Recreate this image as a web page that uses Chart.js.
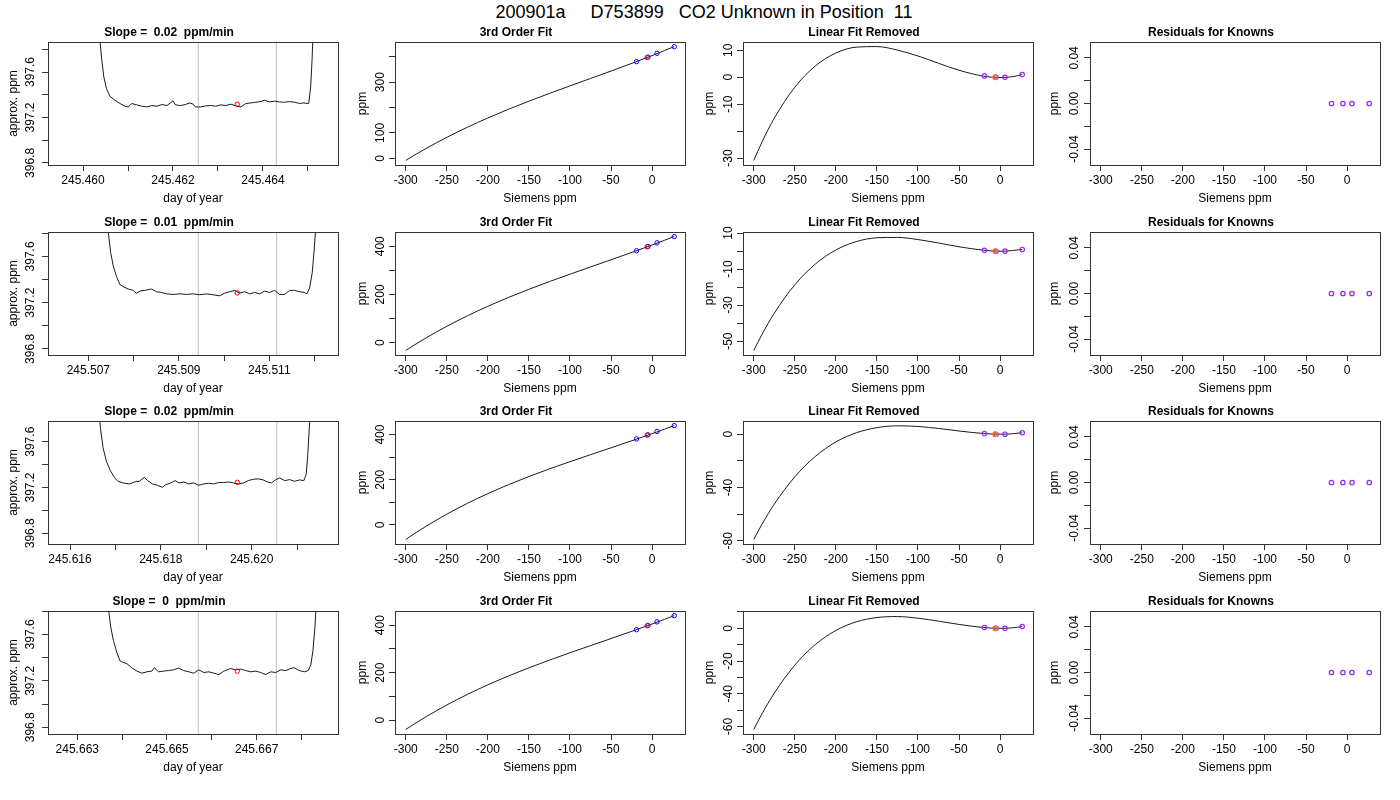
<!DOCTYPE html>
<html>
<head>
<meta charset="utf-8">
<title>CO2 Unknown in Position 11</title>
<script src="https://cdn.jsdelivr.net/npm/chart.js@4.4.1/dist/chart.umd.min.js"></script>
<style>
  html, body { margin: 0; padding: 0; background: #fff; }
  #page { position: relative; width: 1400px; height: 800px; overflow: hidden; }
  #main-title { position: absolute; left: 4px; top: 2px; width: 1400px; text-align: center;
    font: 18px 'Liberation Sans', Arial, sans-serif; white-space: pre; line-height: 20px; color: #000; }
  canvas { position: absolute; }
</style>
</head>
<body>
<div id="page"><div id="main-title"></div></div>
<script>
const mainTitle = '200901a     D753899   CO2 Unknown in Position  11';
const slopeTitles = ['Slope =  0.02  ppm/min', 'Slope =  0.01  ppm/min', 'Slope =  0.02  ppm/min', 'Slope =  0  ppm/min'];

// analyser trace, one per injection (day of year, approx. ppm)
const day1 = [245.460351, 245.460410, 245.460463, 245.460522, 245.460597, 245.460709, 245.460821, 245.460933, 245.461007, 245.461082,
  245.461194, 245.461306, 245.461418, 245.461530, 245.461642, 245.461754, 245.461866, 245.461940, 245.462000, 245.462052,
  245.462164, 245.462276, 245.462373, 245.462448, 245.462500, 245.462612, 245.462724, 245.462836, 245.462948, 245.463060,
  245.463172, 245.463284, 245.463396, 245.463507, 245.463619, 245.463731, 245.463843, 245.463955, 245.464030, 245.464142,
  245.464254, 245.464366, 245.464478, 245.464590, 245.464701, 245.464813, 245.464888, 245.465015, 245.465060, 245.465090, 245.465112];
const ppm1 = [398.0, 397.731, 397.556, 397.454, 397.387, 397.352, 397.323, 397.299, 397.293, 397.323,
  397.311, 397.299, 397.293, 397.305, 397.299, 397.314, 397.305, 397.328, 397.346, 397.311,
  397.305, 397.314, 397.328, 397.317, 397.293, 397.293, 397.302, 397.305, 397.299, 397.311,
  397.305, 397.317, 397.302, 397.293, 397.323, 397.328, 397.334, 397.340, 397.352, 397.337,
  397.343, 397.337, 397.334, 397.340, 397.334, 397.323, 397.328, 397.323, 397.469, 397.702, 397.936];

const day2 = [245.507404, 245.507441, 245.507493, 245.507551, 245.507625, 245.507699, 245.507787, 245.507882, 245.507993, 245.508066,
  245.508140, 245.508250, 245.508397, 245.508507, 245.508618, 245.508728, 245.508875, 245.509022, 245.509169, 245.509316,
  245.509463, 245.509610, 245.509757, 245.509904, 245.510015, 245.510125, 245.510235, 245.510346, 245.510456, 245.510566,
  245.510676, 245.510787, 245.510897, 245.511007, 245.511118, 245.511228, 245.511338, 245.511449, 245.511559, 245.511669,
  245.511779, 245.511831, 245.511890, 245.511949, 245.511993, 245.512022, 245.512037];
const ppm2 = [397.87, 397.812, 397.635, 397.518, 397.424, 397.356, 397.335, 397.318, 397.306, 397.282,
  397.300, 397.306, 397.318, 397.294, 397.288, 397.276, 397.271, 397.276, 397.271, 397.276,
  397.268, 397.276, 397.268, 397.259, 397.282, 397.294, 397.306, 397.282, 397.294, 397.276,
  397.288, 397.276, 397.300, 397.288, 397.306, 397.271, 397.271, 397.306, 397.306, 397.294,
  397.288, 397.276, 397.326, 397.459, 397.665, 397.826, 397.93];

const day3 = [245.616640, 245.616669, 245.616727, 245.616800, 245.616887, 245.616982, 245.617055, 245.617164, 245.617309, 245.617418,
  245.617527, 245.617636, 245.617709, 245.617818, 245.617927, 245.618036, 245.618109, 245.618218, 245.618313, 245.618400,
  245.618509, 245.618618, 245.618727, 245.618836, 245.618945, 245.619055, 245.619164, 245.619273, 245.619382, 245.619491,
  245.619600, 245.619709, 245.619818, 245.619927, 245.620036, 245.620145, 245.620255, 245.620349, 245.620436, 245.620524,
  245.620618, 245.620727, 245.620836, 245.620945, 245.621055, 245.621149, 245.621200, 245.621236, 245.621265, 245.621287];
const ppm3 = [397.84, 397.723, 397.547, 397.430, 397.348, 397.284, 397.254, 397.240, 397.231, 397.248,
  397.254, 397.289, 397.260, 397.231, 397.219, 397.201, 397.225, 397.240, 397.260, 397.240,
  397.248, 397.231, 397.240, 397.219, 397.231, 397.237, 397.231, 397.243, 397.243, 397.248,
  397.240, 397.231, 397.240, 397.260, 397.272, 397.275, 397.266, 397.248, 397.240, 397.266,
  397.284, 397.260, 397.269, 397.254, 397.266, 397.260, 397.313, 397.489, 397.694, 397.84];

const day4 = [245.663672, 245.663701, 245.663746, 245.663806, 245.663881, 245.663955, 245.664015, 245.664104, 245.664216, 245.664328,
  245.664440, 245.664552, 245.664664, 245.664716, 245.664813, 245.664925, 245.665037, 245.665149, 245.665261, 245.665373,
  245.665485, 245.665597, 245.665709, 245.665821, 245.665933, 245.666045, 245.666157, 245.666269, 245.666418, 245.666530,
  245.666642, 245.666754, 245.666866, 245.666978, 245.667090, 245.667201, 245.667313, 245.667425, 245.667537, 245.667649,
  245.667761, 245.667836, 245.667948, 245.668060, 245.668149, 245.668209, 245.668254, 245.668299, 245.668328];
const ppm4 = [397.87, 397.802, 397.664, 397.547, 397.445, 397.371, 397.360, 397.348, 397.313, 397.284,
  397.266, 397.278, 397.284, 397.313, 397.278, 397.284, 397.289, 397.295, 397.310, 397.289,
  397.278, 397.266, 397.295, 397.272, 397.278, 397.266, 397.254, 397.284, 397.307, 397.295,
  397.301, 397.289, 397.278, 397.284, 397.272, 397.254, 397.278, 397.272, 397.295, 397.289,
  397.307, 397.313, 397.289, 397.278, 397.289, 397.342, 397.459, 397.664, 397.87];

const dayRows = [day1, day2, day3, day4];
const ppmRows = [ppm1, ppm2, ppm3, ppm4];

// averaging window (grey lines) and the averaged value (red circle)
const windowDays = [[245.462562, 245.464296], [245.509431, 245.511163], [245.618826, 245.620553], [245.665698, 245.667437]];
const unknownDay = [245.463429, 245.510293, 245.619685, 245.666567];
const unknownPpm = [397.316, 397.284, 397.245, 397.284];

const dayTicks = [
  [245.460, 245.461, 245.462, 245.463, 245.464, 245.465],
  [245.507, 245.508, 245.509, 245.510, 245.511, 245.512],
  [245.616, 245.617, 245.618, 245.619, 245.620, 245.621],
  [245.663, 245.664, 245.665, 245.666, 245.667, 245.668]];
const dayTickLabels = [
  ['245.460', '', '245.462', '', '245.464', ''],
  ['245.507', '', '245.509', '', '245.511', ''],
  ['245.616', '', '245.618', '', '245.620', ''],
  ['245.663', '', '245.665', '', '245.667', '']];
const dayLimits = [[245.459222, 245.465667], [245.506109, 245.512518], [245.615515, 245.621901], [245.662347, 245.668813]];
const ppmLimits = [[396.782, 397.864], [396.747, 397.811], [396.706, 397.781], [396.742, 397.802]];
const ppmTicks = [396.8, 397.0, 397.2, 397.4, 397.6, 397.8];
const ppmTickLabels = ['396.8', '', '397.2', '', '397.6', ''];

// calibration curve, sampled along the Siemens axis
const siemensGrid = [-300, -290, -275, -250, -225, -200, -175, -150, -125, -100, -75, -50, -20, 0, 15, 27];
const fit1 = [-8.4, 11.2, 39.2, 82.6, 122.3, 159.0, 193.1, 225.2, 255.7, 285.4, 314.6, 343.9, 379.9, 404.9, 424.3, 440.4];
const fit2 = [-32.7, -11.1, 19.9, 67.6, 110.9, 150.6, 187.2, 221.2, 253.2, 283.9, 313.9, 343.7, 380.0, 404.9, 424.4, 440.3];
const fit3 = [-64.1, -39.7, -5.2, 47.8, 95.5, 138.8, 178.1, 214.4, 248.2, 280.1, 311.0, 341.6, 378.6, 404.0, 423.8, 440.1];
const fit4 = [-39.3, -17.1, 14.8, 63.8, 108.2, 148.7, 185.9, 220.4, 252.8, 283.7, 313.8, 343.7, 380.0, 405.0, 424.4, 440.5];
const removed1 = [-30.9, -24.1, -15.2, -3.7, 4.2, 9.0, 11.2, 11.4, 10.1, 7.9, 5.2, 2.6, 0.4, -0.1, 0.2, 1.0];
const removed2 = [-55.2, -46.3, -34.5, -18.7, -7.2, 0.6, 5.3, 7.4, 7.6, 6.4, 4.5, 2.4, 0.5, -0.1, 0.3, 0.9];
const removed3 = [-79.0, -67.6, -52.5, -32.0, -16.7, -5.8, 1.1, 4.9, 6.3, 5.8, 4.3, 2.4, 0.5, 0.0, 0.3, 1.1];
const removed4 = [-61.8, -52.3, -39.6, -22.5, -9.9, -1.3, 4.0, 6.6, 7.2, 6.2, 4.4, 2.4, 0.5, 0.0, 0.3, 1.1];
const fitRows = [fit1, fit2, fit3, fit4];
const removedRows = [removed1, removed2, removed3, removed4];

const knownSiemens = [-19, -5, 6, 27];
const knownPpm = [381, 399, 414, 440];
const knownRemoved = [[0.5, 0, 0, 1.0], [0.4, -0.1, 0, 0.9], [0.5, 0, 0, 1.1], [0.5, 0, 0, 1.1]];
const knownResiduals = [0, 0, 0, 0];
const unknownSiemens = -6;
const unknownFitPpm = 397.5;
const unknownRemoved = [0, 0, 0, 0];

const siemensTicks = [-300, -250, -200, -150, -100, -50, 0];
const siemensTickLabels = ['-300', '-250', '-200', '-150', '-100', '-50', '0'];
const siemensLimits = [-313.1, 40.1];
const fitLimits = [[-26.4, 458.4], [-51.6, 459], [-84.3, 460.2], [-58.5, 459.8]];
const fitTicks = [0, 100, 200, 300, 400];
const fitTickLabels = [['0', '100', '', '300', ''], ['0', '', '200', '', '400'], ['0', '', '200', '', '400'], ['0', '', '200', '', '400']];
const removedLimits = [[-32.6, 13.1], [-57.7, 10.6], [-82.4, 9.9], [-64.6, 10.6]];
const removedTicks = [[-30, -20, -10, 0, 10], [-50, -40, -30, -20, -10, 0, 10], [-80, -60, -40, -20, 0], [-60, -50, -40, -30, -20, -10, 0, 10]];
const removedTickLabels = [['-30', '', '-10', '0', '10'], ['-50', '', '-30', '', '-10', '', '10'], ['-80', '', '-40', '', '0'], ['-60', '', '-40', '', '-20', '', '0', '']];
const residLimits = [-0.054, 0.054];
const residTicks = [-0.04, -0.02, 0, 0.02, 0.04];
const residTickLabels = ['-0.04', '', '0.00', '', '0.04'];

// page layout (plot rectangles)
const plotLefts = [48, 395, 743, 1090];
const plotTops = [42, 232, 421, 611];
const PLOT_W = 290, PLOT_H = 123;
const Y_AXIS_W = 48, X_AXIS_H = 48, TITLE_H = 21, RIGHT_PAD = 6;
const yTitlePad = [6.8, 8.8, 7, 5.8];
const yTickPad = [-4, -1.5, 0, -4.7];

Chart.defaults.font.family = "'Liberation Sans', Arial, Helvetica, sans-serif";
Chart.defaults.font.size = 12;
Chart.defaults.color = '#000';

document.getElementById('main-title').textContent = mainTitle;

const boxPlugin = {
  id: 'plotBox',
  afterDraw(chart) {
    const a = chart.chartArea;
    const ctx = chart.ctx;
    ctx.save();
    ctx.strokeStyle = '#333';
    ctx.lineWidth = 1;
    ctx.strokeRect(Math.round(a.left) + 0.5, Math.round(a.top) + 0.5, Math.round(a.right - a.left), Math.round(a.bottom - a.top));
    ctx.restore();
  }
};

function pts(xs, ys) {
  return xs.map((x, i) => ({ x: x, y: ys[i] }));
}

function axis(isX, min, max, tickVals, tickLabs, title, col) {
  const s = {
    type: 'linear',
    min: min,
    max: max,
    afterBuildTicks: sc => {
      sc.ticks = tickVals.filter(v => v >= min && v <= max).map(v => ({ value: v }));
    },
    afterFit: sc => {
      if (isX) sc.height = X_AXIS_H; else sc.width = Y_AXIS_W;
    },
    grid: { drawOnChartArea: false, drawTicks: true, tickLength: 6, color: '#333', lineWidth: 1 },
    border: { display: false },
    ticks: {
      autoSkip: false,
      color: '#000',
      font: { size: 12 },
      callback: v => {
        const i = tickVals.findIndex(t => Math.abs(t - v) < 1e-9);
        return i < 0 ? '' : tickLabs[i];
      }
    },
    title: { display: true, text: title, color: '#000', font: { size: 12 } }
  };
  if (isX) {
    s.ticks.maxRotation = 0;
    s.ticks.minRotation = 0;
    s.ticks.padding = 2;
    s.title.padding = { top: 0, bottom: 7 };
  } else {
    s.ticks.minRotation = 90;
    s.ticks.maxRotation = 90;
    s.ticks.crossAlign = 'center';
    s.ticks.padding = yTickPad[col];
    s.title.padding = { top: yTitlePad[col], bottom: 0 };
  }
  return s;
}

function circles(data, color, width) {
  return {
    data: data,
    showLine: false,
    pointRadius: 2.2,
    pointHoverRadius: 2.2,
    pointBorderColor: color,
    pointBackgroundColor: 'rgba(0,0,0,0)',
    pointBorderWidth: width || 1
  };
}

function curve(data, color, smooth) {
  return {
    data: data,
    showLine: true,
    borderColor: color,
    borderWidth: 1,
    pointRadius: 0,
    pointHoverRadius: 0,
    cubicInterpolationMode: smooth ? 'monotone' : 'default'
  };
}

function makePanel(row, col, title, datasets, xScale, yScale) {
  const c = document.createElement('canvas');
  const w = Y_AXIS_W + PLOT_W + RIGHT_PAD;
  const h = TITLE_H + PLOT_H + X_AXIS_H;
  c.width = w;
  c.height = h;
  c.style.width = w + 'px';
  c.style.height = h + 'px';
  c.style.left = (plotLefts[col] - Y_AXIS_W) + 'px';
  c.style.top = (plotTops[row] - TITLE_H) + 'px';
  document.getElementById('page').appendChild(c);
  return new Chart(c.getContext('2d'), {
    type: 'scatter',
    data: { datasets: datasets },
    options: {
      responsive: false,
      animation: false,
      events: [],
      layout: { padding: { left: 0, right: RIGHT_PAD, top: 0, bottom: 0 } },
      plugins: {
        legend: { display: false },
        tooltip: { enabled: false },
        title: {
          display: true, text: title, color: '#000',
          font: { size: 12, weight: 'bold' },
          padding: { top: 4, bottom: 2.6 }
        }
      },
      scales: { x: xScale, y: yScale }
    },
    plugins: [boxPlugin]
  });
}

for (let r = 0; r < 4; r++) {
  const lim = ppmLimits[r];
  // column 1: raw trace
  makePanel(r, 0, slopeTitles[r], [
    circles([{ x: unknownDay[r], y: unknownPpm[r] }], '#ff0000'),
    curve(pts(dayRows[r], ppmRows[r]), '#1a1a1a', false),
    curve([{ x: windowDays[r][0], y: lim[0] }, { x: windowDays[r][0], y: lim[1] }], '#bebebe', false),
    curve([{ x: windowDays[r][1], y: lim[0] }, { x: windowDays[r][1], y: lim[1] }], '#bebebe', false)
  ],
    axis(true, dayLimits[r][0], dayLimits[r][1], dayTicks[r], dayTickLabels[r], 'day of year', 0),
    axis(false, lim[0], lim[1], ppmTicks, ppmTickLabels, 'approx. ppm', 0));

  // column 2: cubic calibration fit
  makePanel(r, 1, '3rd Order Fit', [
    circles([{ x: unknownSiemens, y: unknownFitPpm }], '#ff0000'),
    circles(pts(knownSiemens, knownPpm), '#0000ff'),
    curve(pts(siemensGrid, fitRows[r]), '#1a1a1a', true)
  ],
    axis(true, siemensLimits[0], siemensLimits[1], siemensTicks, siemensTickLabels, 'Siemens ppm', 1),
    axis(false, fitLimits[r][0], fitLimits[r][1], fitTicks, fitTickLabels[r], 'ppm', 1));

  // column 3: fit with linear part removed
  makePanel(r, 2, 'Linear Fit Removed', [
    circles([{ x: unknownSiemens, y: unknownRemoved[r] }], '#ff7020', 1.4),
    circles(pts(knownSiemens, knownRemoved[r]), '#9030f0', 1.2),
    curve(pts(siemensGrid, removedRows[r]), '#1a1a1a', true)
  ],
    axis(true, siemensLimits[0], siemensLimits[1], siemensTicks, siemensTickLabels, 'Siemens ppm', 2),
    axis(false, removedLimits[r][0], removedLimits[r][1], removedTicks[r], removedTickLabels[r], 'ppm', 2));

  // column 4: residuals of the standards
  makePanel(r, 3, 'Residuals for Knowns', [
    circles(pts(knownSiemens, knownResiduals), '#9030f0', 1.3)
  ],
    axis(true, siemensLimits[0], siemensLimits[1], siemensTicks, siemensTickLabels, 'Siemens ppm', 3),
    axis(false, residLimits[0], residLimits[1], residTicks, residTickLabels, 'ppm', 3));
}
</script>
</body>
</html>
